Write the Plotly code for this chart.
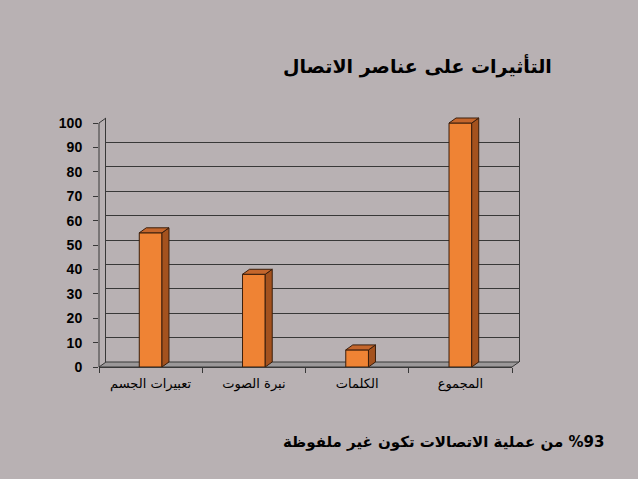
"""
Arabic 3D-style column chart: effects of communication elements
Front faces are bars, side and top faces are filled polygons built from the values.
"""

import plotly.graph_objects as go

# values
categories = ["تعبيرات الجسم", "نبرة الصوت", "الكلمات", "المجموع"]
values = [55, 38, 7, 100]
y_ticks = list(range(0, 101, 10))

title_text = "التأثيرات على عناصر الاتصال"
# RLE ... PDF so the sentence is laid out right-to-left
note_text = "\u202B%93 من عملية الاتصالات تكون غير ملفوظة\u202C"

W, H = 638, 479
H_DRAWN = 471             # the page ends up drawn about this tall, map fractions to it
BG = "#b8b1b3"
GRID = "#383838"
FRONT = "#ef8334"
SIDE = "#a4521e"
TOP = "#c4662c"
EDGE = "#3a1e0c"
FLOOR = "#9b9899"
AR_FONT = "DejaVu Sans"

# pixel geometry of the front plane
FL, FR = 99, 512          # left / right of front axis
F0, F100 = 367, 123       # y pixel of 0 and 100
DX, DY = 7, 5             # depth offset of the back wall
Y_TOP = 104               # a bit of headroom so top faces are not clipped
BW = 0.22                 # bar width in category units


def px_x(x):
    return x / W


def px_y(y):
    return 1 - y / H_DRAWN


def _faces(vals, ddx, ddy):
    """Build the side and top polygons (None separated) for every bar."""
    sx, sy, tx, ty = [], [], [], []
    for i, v in enumerate(vals):
        xl, xr = i - BW / 2, i + BW / 2
        sx += [xr, xr + ddx, xr + ddx, xr, xr, None]
        sy += [0, ddy, v + ddy, v, 0, None]
        tx += [xl, xl + ddx, xr + ddx, xr, xl, None]
        ty += [v, v + ddy, v + ddy, v, v, None]
    return sx, sy, tx, ty


def make_chart():
    scale = (F0 - F100) / 100
    ddx = DX / ((FR - FL) / len(categories))
    ddy = DY / scale
    side_x, side_y, top_x, top_y = _faces(values, ddx, ddy)

    fig = go.Figure()

    # back wall subplot (grid only), drawn first so it sits under the bars
    fig.add_trace(go.Scatter(x=[None], y=[None], xaxis="x", yaxis="y",
                             showlegend=False, hoverinfo="skip"))

    fig.add_trace(go.Bar(x=list(range(len(categories))), y=values, width=BW,
                         marker=dict(color=FRONT, line=dict(color=EDGE, width=1)),
                         xaxis="x2", yaxis="y2", showlegend=False, hoverinfo="skip"))
    fig.add_trace(go.Scatter(x=side_x, y=side_y, mode="lines", fill="toself",
                             fillcolor=SIDE, line=dict(color=EDGE, width=1),
                             xaxis="x2", yaxis="y2", showlegend=False, hoverinfo="skip"))
    fig.add_trace(go.Scatter(x=top_x, y=top_y, mode="lines", fill="toself",
                             fillcolor=TOP, line=dict(color=EDGE, width=1),
                             xaxis="x2", yaxis="y2", showlegend=False, hoverinfo="skip"))

    # floor and left edge of the box
    floor = (f"M {px_x(FL)} {px_y(F0)} L {px_x(FR)} {px_y(F0)} "
             f"L {px_x(FR + DX)} {px_y(F0 - DY)} L {px_x(FL + DX)} {px_y(F0 - DY)} Z")
    left_edge = (f"M {px_x(FL)} {px_y(F0)} L {px_x(FL)} {px_y(F100)} "
                 f"L {px_x(FL + DX)} {px_y(F100 - DY)}")
    shapes = [
        dict(type="path", path=floor, xref="paper", yref="paper", layer="below",
             fillcolor=FLOOR, line=dict(color=GRID, width=1)),
        dict(type="path", path=left_edge, xref="paper", yref="paper",
             line=dict(color=GRID, width=1)),
    ]

    annotations = [
        dict(text=title_text, x=px_x(417), y=px_y(66), xref="paper", yref="paper",
             showarrow=False, xanchor="center", yanchor="middle",
             font=dict(family=AR_FONT, size=19, color="black", weight="bold")),
        dict(text=note_text, x=px_x(443), y=px_y(442), xref="paper", yref="paper",
             showarrow=False, xanchor="center", yanchor="middle",
             font=dict(family=AR_FONT, size=15, color="black", weight="bold")),
    ]

    fig.update_layout(
        width=W, height=H,
        margin=dict(l=0, r=0, t=0, b=0),
        paper_bgcolor=BG, plot_bgcolor="rgba(0,0,0,0)",
        shapes=shapes, annotations=annotations,
        xaxis=dict(domain=[px_x(FL + DX), px_x(FR + DX)], range=[-0.5, len(categories) - 0.5],
                   visible=False, anchor="y"),
        yaxis=dict(domain=[px_y(F0 - DY), px_y(F100 - DY)], range=[0, 100], anchor="x",
                   tickvals=y_ticks, showticklabels=False, ticks="",
                   showgrid=True, gridcolor=GRID, gridwidth=1, zeroline=False,
                   showline=True, mirror=True, linecolor=GRID, linewidth=1),
        xaxis2=dict(domain=[px_x(FL), px_x(FR)], range=[-0.5, len(categories) - 0.5],
                    anchor="y2", tickvals=list(range(len(categories))), ticktext=categories,
                    ticks="", showgrid=False, zeroline=False,
                    showline=True, linecolor=GRID, linewidth=1,
                    minor=dict(ticks="outside", tick0=-0.5, dtick=1, ticklen=5,
                               tickcolor=GRID, showgrid=False),
                    ticklabelstandoff=4,
                    tickfont=dict(family=AR_FONT, size=13, color="black")),
        yaxis2=dict(domain=[px_y(F0), px_y(F0 - Y_TOP * scale)], range=[0, Y_TOP],
                    anchor="x2", tickvals=y_ticks, ticks="outside", ticklen=5,
                    tickcolor=GRID, showline=False, showgrid=False, zeroline=False,
                    ticklabelstandoff=8,
                    tickfont=dict(family="Liberation Sans", size=14, color="black",
                                  weight="bold")),
    )
    return fig


def main():
    fig = make_chart()
    # drop the default page margin so the figure sits at the window corner
    fig.write_html("out.html", config={"displayModeBar": False},
                   post_script="document.body.style.margin='0';")


if __name__ == '__main__':
    main()
